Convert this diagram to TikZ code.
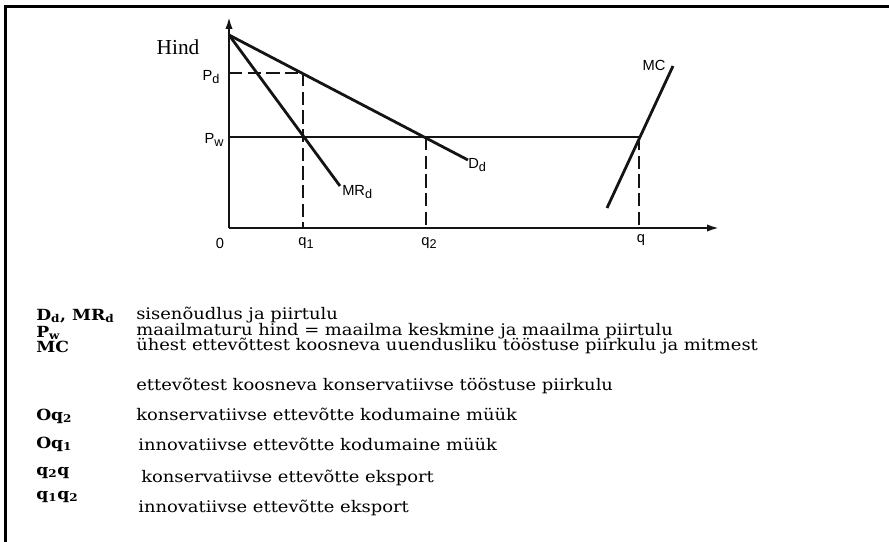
\documentclass[tikz,border=0pt]{standalone}
\usepackage{fontspec}
\setmainfont{DejaVu Serif}[FakeStretch=1.12]
\setsansfont{Liberation Sans}
\newfontfamily\hindfont{Liberation Serif}
\usepackage{xcolor}
\usetikzlibrary{arrows.meta,positioning}
\definecolor{inkblack}{RGB}{20,20,20}
% lowered index for the chart labels
\newcommand\lsub[1]{\raisebox{-0.45ex}{\fontsize{9.5}{10}\selectfont #1}}
\tikzset{
  axis/.style={line width=1.5pt,draw=inkblack,-{Latex[length=9pt,width=5.5pt]}},
  curve/.style={line width=2.1pt,draw=inkblack},
  level/.style={line width=1.1pt,draw=inkblack},
  guide/.style={line width=1.1pt,draw=inkblack,dash pattern=on 10pt off 4pt},
  axlabel/.style={font=\sffamily\fontsize{11}{12}\selectfont,inner sep=0pt},
  symb/.style={font=\bfseries\fontsize{11.5}{13}\selectfont,anchor=base west,inner sep=0pt},
  legtext/.style={font=\fontsize{12}{14}\selectfont,anchor=base west,inner sep=0pt}
}

\begin{document}
\begin{tikzpicture}[x=0.75pt,y=-0.75pt]
  \useasboundingbox (0,0) rectangle (889,542);
  % frame (top and left only)
  \draw[line width=1.6pt] (5.5,542) -- (5.5,6.5) -- (889,6.5);

  % axes
  \coordinate (O) at (229,228);
  \coordinate (ytop) at (229,17);
  \coordinate (xend) at (719,228);
  \draw[axis] (O) -- (ytop);
  \draw[axis] (O) -- (xend);

  % demand and marginal revenue
  \coordinate (pmax) at (229,35);
  \coordinate (dEnd) at (468,160);
  \coordinate (mrEnd) at (340,186);
  \draw[curve] (pmax) -- (dEnd);
  \draw[curve] (pmax) -- (mrEnd);

  % marginal cost
  \coordinate (mcLow) at (607,208);
  \coordinate (mcHigh) at (673,66);
  \draw[curve] (mcLow) -- (mcHigh);

  % price levels and quantities
  \coordinate (pd) at (229,73);
  \coordinate (pdD) at (303,73);
  \coordinate (pw) at (229,137);
  \coordinate (pwMC) at (639,137);
  \coordinate (pwD) at (426,137);
  \coordinate (q1) at (303,228);
  \coordinate (q2) at (426,228);
  \coordinate (q) at (639,228);
  \draw[level] (pw) -- (pwMC);
  \draw[guide] (pd) -- (pdD);
  \draw[guide] (pdD) -- (q1);
  \draw[guide] (pwD) -- (q2);
  \draw[guide] (pwMC) -- (q);

  % axis labels
  \node[font=\hindfont\fontsize{16}{18}\selectfont,inner sep=0pt] (hind) at (178,47) {Hind};
  \node[axlabel] (lblPd) at (211,77) {P\lsub{d}};
  \node[axlabel] (lblPw) at (214,140) {P\lsub{w}};
  \node[axlabel] (lblO) at (220,243) {0};
  \node[axlabel] (lblQ1) at (306,243) {q\lsub{1}};
  \node[axlabel] (lblQ2) at (429,243) {q\lsub{2}};
  \node[axlabel] (lblQ) at (641,240) {q};
  \node[axlabel,anchor=west] (lblD) at (468,165) {D\lsub{d}};
  \node[axlabel,anchor=west] (lblMR) at (342,192) {MR\lsub{d}};
  \node[axlabel] (lblMC) at (654,65) {MC};

  % legend
  \node[symb] (s1) at (36,320) {D\textsubscript{d}, MR\textsubscript{d}};
  \node[legtext] (t1) at (136,319) {sisenõudlus ja piirtulu};
  \node[symb] (s2) at (36,337) {P\textsubscript{w}};
  \node[legtext] (t2) at (136,335) {maailmaturu hind = maailma keskmine ja maailma piirtulu};
  \node[symb] (s3) at (36,352) {MC};
  \node[legtext] (t3) at (136,350) {ühest ettevõttest koosneva uuendusliku tööstuse piirkulu ja mitmest};
  \node[legtext] (t4) at (136,390) {ettevõtest koosneva konservatiivse tööstuse piirkulu};
  \node[symb] (s5) at (36,420) {Oq\textsubscript{2}};
  \node[legtext] (t5) at (136,420) {konservatiivse ettevõtte kodumaine müük};
  \node[symb] (s6) at (36,448) {Oq\textsubscript{1}};
  \node[legtext] (t6) at (138,450) {innovatiivse ettevõtte kodumaine müük};
  \node[symb] (s7) at (36,475) {q\textsubscript{2}q};
  \node[legtext] (t7) at (141,482) {konservatiivse ettevõtte eksport};
  \node[symb] (s8) at (36,499) {q\textsubscript{1}q\textsubscript{2}};
  \node[legtext] (t8) at (138,512) {innovatiivse ettevõtte eksport};
\end{tikzpicture}
\end{document}
